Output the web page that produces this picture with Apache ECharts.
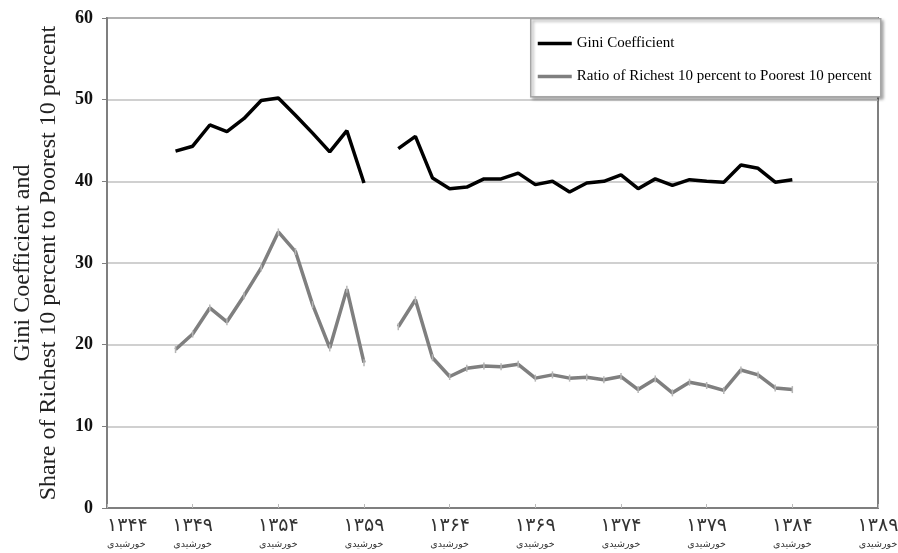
<!DOCTYPE html>
<html>
<head>
<meta charset="utf-8">
<script src="https://cdn.jsdelivr.net/npm/echarts@6/dist/echarts.min.js"></script>
<style>
html,body{margin:0;padding:0;background:#fff;}
#c{width:898px;height:553px;}
</style>
</head>
<body>
<div id="c"></div>
<script>
// Years (solar Hijri)
const years = [1348,1349,1350,1351,1352,1353,1354,1355,1356,1357,1358,1359,1360,
  1361,1362,1363,1364,1365,1366,1367,1368,1369,1370,1371,1372,1373,1374,1375,1376,
  1377,1378,1379,1380,1381,1382,1383,1384];
const gini = [43.7,44.3,46.9,46.1,47.7,49.9,50.2,48.1,45.9,43.6,46.2,39.8,null,
  44.0,45.5,40.4,39.1,39.3,40.3,40.3,41.0,39.6,40.0,38.7,39.8,40.0,40.8,39.1,40.3,
  39.5,40.2,40.0,39.9,42.0,41.6,39.9,40.2];
const ratio = [19.4,21.3,24.5,22.8,26.0,29.4,33.8,31.4,24.9,19.6,26.8,17.8,null,
  22.2,25.5,18.4,16.1,17.1,17.4,17.3,17.6,15.9,16.3,15.9,16.0,15.7,16.1,14.5,15.8,
  14.1,15.4,15.0,14.4,16.9,16.3,14.7,14.5];
const tickYears = [1344,1349,1354,1359,1364,1369,1374,1379,1384,1389];
const tickLabels = ['۱۳۴۴','۱۳۴۹','۱۳۵۴','۱۳۵۹','۱۳۶۴','۱۳۶۹','۱۳۷۴','۱۳۷۹','۱۳۸۴','۱۳۸۹'];
const calendarWord = 'خورشیدی';
const seriesNames = ['Gini Coefficient','Ratio of Richest 10 percent to Poorest 10 percent'];
const yName = 'Gini Coefficient and\nShare of Richest 10 percent to Poorest 10 percent';

const pair = (vals) => years.map((y,i) => [y, vals[i] === null ? '-' : vals[i]]);

const chart = echarts.init(document.getElementById('c'));
chart.setOption({
  animation: false,
  backgroundColor: '#fff',
  grid: {left:107, right:20, top:18, bottom:45, containLabel:false, outerBoundsMode:'none',
    show:true, borderColor:'#7f7f7f', borderWidth:2, backgroundColor:'transparent'},
  graphic: [{
    type:'rect', left:530, top:18, z:3,
    shape:{width:350, height:78},
    style:{fill:'#fff', stroke:'#a6a6a6', lineWidth:1.5, shadowBlur:3, shadowOffsetX:2, shadowOffsetY:2, shadowColor:'rgba(0,0,0,0.35)'}
  }],
  legend: {
    orient:'vertical', left:531, top:31, z:5,
    itemGap:18, itemWidth:34, itemHeight:14,
    itemStyle:{opacity:0, color:'transparent', borderWidth:0},
    lineStyle:{width:3.5},
    textStyle:{fontFamily:'Liberation Serif', fontSize:15, color:'#000'},
    data: seriesNames
  },
  xAxis: {
    type:'value', min:1344, max:1389,
    axisLine:{show:true, lineStyle:{color:'#7f7f7f', width:2}},
    axisTick:{show:true, inside:true, length:4, lineStyle:{color:'#bbb'}, customValues: tickYears},
    splitLine:{show:false},
    axisLabel:{
      customValues: tickYears,
      alignMinLabel:'left',
      margin:8,
      formatter:(v) => {
        const i = tickYears.indexOf(Math.round(v));
        return '{a|' + (i >= 0 ? tickLabels[i] : '') + '}\n{b|' + calendarWord + '}';
      },
      rich:{
        a:{fontFamily:'DejaVu Sans', fontSize:19, color:'#333', lineHeight:21},
        b:{fontFamily:'DejaVu Sans', fontSize:9.5, color:'#333', lineHeight:16}
      }
    }
  },
  yAxis: {
    type:'value', min:0, max:60, interval:10,
    name: yName, nameLocation:'middle', nameRotate:90, nameGap:45,
    nameTextStyle:{fontFamily:'Liberation Serif', fontSize:24, color:'#222', lineHeight:26},
    axisLine:{show:true, lineStyle:{color:'#7f7f7f', width:2}},
    axisTick:{show:true, inside:false, length:5, lineStyle:{color:'#7f7f7f'}},
    splitLine:{show:true, lineStyle:{color:'#c0c0c0', width:1.5}},
    axisLabel:{fontFamily:'Liberation Serif', fontSize:18, fontWeight:'bold', color:'#111', margin:14}
  },
  series: [
    {
      name: seriesNames[0], type:'line', data: pair(gini),
      symbol:'none', connectNulls:false, z:2,
      lineStyle:{color:'#000', width:3.5}, itemStyle:{color:'#000'}
    },
    {
      name: seriesNames[1], type:'line', data: pair(ratio),
      symbol:'rect', symbolSize:[1.5,7], showSymbol:true, connectNulls:false, z:2,
      lineStyle:{color:'#7f7f7f', width:3.5}, itemStyle:{color:'#b5b5b5'}
    }
  ]
});
</script>
</body>
</html>
